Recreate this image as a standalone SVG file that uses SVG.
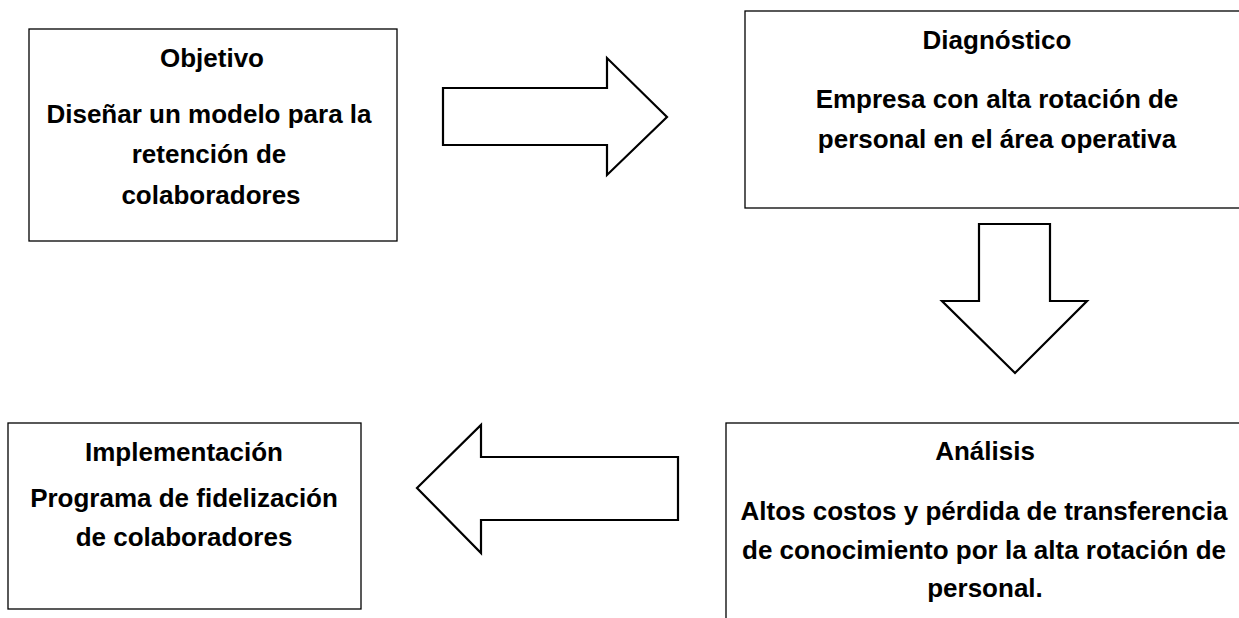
<svg xmlns="http://www.w3.org/2000/svg" width="1239" height="618" viewBox="0 0 1239 618">
<style>
.box{fill:#fff;stroke:#000;stroke-width:1.3}
.arrow{fill:#fff;stroke:#000;stroke-width:2.2;stroke-linejoin:miter}
.t{font-family:"Liberation Sans",Arial,sans-serif;font-weight:bold;font-size:26px;fill:#000;text-anchor:middle}
</style>
<rect width="1239" height="618" fill="#fff"/>
<g id="objetivo">
<rect class="box" x="29" y="29" width="368" height="212"/>
<text class="t" x="212" y="67">Objetivo</text>
<text class="t" x="209" y="123">Diseñar un modelo para la</text>
<text class="t" x="209" y="163">retención de</text>
<text class="t" x="211" y="204">colaboradores</text>
</g>
<g id="diagnostico">
<rect class="box" x="745" y="11" width="505" height="197"/>
<text class="t" x="997" y="49">Diagnóstico</text>
<text class="t" x="997" y="108">Empresa con alta rotación de</text>
<text class="t" x="997" y="148">personal en el área operativa</text>
</g>
<g id="analisis">
<rect class="box" x="726" y="423" width="520" height="205"/>
<text class="t" x="985" y="460">Análisis</text>
<text class="t" x="984" y="520">Altos costos y pérdida de transferencia</text>
<text class="t" x="984" y="559">de conocimiento por la alta rotación de</text>
<text class="t" x="985" y="597">personal.</text>
</g>
<g id="implementacion">
<rect class="box" x="8" y="423" width="353" height="186"/>
<text class="t" x="184" y="461">Implementación</text>
<text class="t" x="184" y="507">Programa de fidelización</text>
<text class="t" x="184" y="546">de colaboradores</text>
</g>
<g id="connectors">
<polygon class="arrow" points="443,88 607,88 607,58 667,117 607,175 607,145 443,145"/>
<polygon class="arrow" points="979,224 1050,224 1050,301 1087,301 1015,373 942,301 979,301"/>
<polygon class="arrow" points="678,457 481,457 481,425 417,488 481,553 481,520 678,520"/>
</g>
</svg>
